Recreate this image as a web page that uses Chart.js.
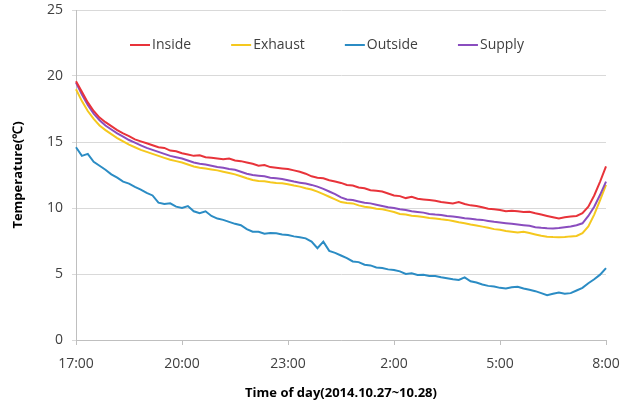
<!DOCTYPE html>
<html>
<head>
<meta charset="utf-8">
<script src="https://cdn.jsdelivr.net/npm/chart.js@4/dist/chart.umd.min.js"></script>
<style>
  html, body { margin: 0; padding: 0; background: #fff; }
  #wrap { width: 621px; height: 409px; }
</style>
</head>
<body>
<div id="wrap"><canvas id="tempChart"></canvas></div>
<script>
// readings every 10 minutes, 17:00 -> 8:00
const times = [
  '17:00','17:10','17:20','17:30','17:40','17:50',
  '18:00','18:10','18:20','18:30','18:40','18:50',
  '19:00','19:10','19:20','19:30','19:40','19:50',
  '20:00','20:10','20:20','20:30','20:40','20:50',
  '21:00','21:10','21:20','21:30','21:40','21:50',
  '22:00','22:10','22:20','22:30','22:40','22:50',
  '23:00','23:10','23:20','23:30','23:40','23:50',
  '0:00','0:10','0:20','0:30','0:40','0:50',
  '1:00','1:10','1:20','1:30','1:40','1:50',
  '2:00','2:10','2:20','2:30','2:40','2:50',
  '3:00','3:10','3:20','3:30','3:40','3:50',
  '4:00','4:10','4:20','4:30','4:40','4:50',
  '5:00','5:10','5:20','5:30','5:40','5:50',
  '6:00','6:10','6:20','6:30','6:40','6:50',
  '7:00','7:10','7:20','7:30','7:40','7:50',
  '8:00'
];
const tickTimes = ['17:00', '20:00', '23:00', '2:00', '5:00', '8:00'];

const inside = [
  19.6, 18.8, 18.0, 17.35, 16.85, 16.5,
  16.2, 15.9, 15.65, 15.45, 15.2, 15.05,
  14.9, 14.75, 14.6, 14.55, 14.35, 14.3,
  14.15, 14.05, 13.95, 14.0, 13.85, 13.8,
  13.75, 13.7, 13.75, 13.6, 13.55, 13.45,
  13.35, 13.2, 13.25, 13.1, 13.05, 13.0,
  12.95, 12.85, 12.75, 12.6, 12.4, 12.3,
  12.25, 12.1, 12.0, 11.9, 11.75, 11.7,
  11.55, 11.5, 11.35, 11.3, 11.25, 11.1,
  10.95, 10.9, 10.75, 10.85, 10.7, 10.65,
  10.6, 10.55, 10.45, 10.4, 10.35, 10.45,
  10.3, 10.2, 10.15, 10.05, 9.95, 9.9,
  9.85, 9.75, 9.8, 9.75, 9.7, 9.72,
  9.6, 9.5, 9.4, 9.3, 9.2, 9.3,
  9.35, 9.4, 9.6, 10.1, 10.95, 12.0,
  13.15
];
const exhaust = [
  19.0, 18.1, 17.35, 16.75, 16.25, 15.9,
  15.6, 15.3, 15.05, 14.8, 14.6, 14.4,
  14.25, 14.1, 13.95, 13.8, 13.65, 13.55,
  13.45, 13.3, 13.15, 13.05, 13.0, 12.92,
  12.85, 12.75, 12.65, 12.55, 12.4, 12.25,
  12.12, 12.05, 12.02, 11.95, 11.9, 11.87,
  11.8, 11.7, 11.62, 11.5, 11.4, 11.24,
  11.05, 10.85, 10.65, 10.45, 10.38, 10.35,
  10.2, 10.1, 10.04, 9.95, 9.9, 9.8,
  9.7, 9.55, 9.5, 9.42, 9.38, 9.32,
  9.25, 9.2, 9.14, 9.1, 9.02, 8.92,
  8.84, 8.75, 8.68, 8.59, 8.5, 8.4,
  8.35, 8.25, 8.2, 8.15, 8.2, 8.1,
  8.0, 7.9, 7.83, 7.8, 7.78, 7.8,
  7.85, 7.88, 8.1, 8.6, 9.5, 10.6,
  11.75
];
const outside = [
  14.6, 13.95, 14.1, 13.5, 13.2, 12.9,
  12.55, 12.3, 12.0, 11.85, 11.6, 11.4,
  11.15, 10.95, 10.4, 10.3, 10.35, 10.1,
  10.0, 10.15, 9.75, 9.6, 9.75, 9.4,
  9.2, 9.1, 8.95, 8.8, 8.7, 8.4,
  8.2, 8.2, 8.05, 8.1, 8.08, 8.0,
  7.95, 7.85, 7.78, 7.7, 7.45, 6.95,
  7.45, 6.75, 6.6, 6.4, 6.2, 5.95,
  5.9, 5.7, 5.65, 5.5, 5.45, 5.35,
  5.3, 5.2, 5.0, 5.05, 4.92, 4.95,
  4.85, 4.85, 4.75, 4.67, 4.6, 4.55,
  4.75, 4.45, 4.35, 4.2, 4.1, 4.05,
  3.95, 3.9, 4.0, 4.04, 3.9, 3.8,
  3.7, 3.55, 3.4, 3.5, 3.59, 3.5,
  3.55, 3.75, 3.95, 4.3, 4.6, 4.95,
  5.45
];
const supply = [
  19.5, 18.6, 17.8, 17.15, 16.65, 16.25,
  15.95, 15.65, 15.4, 15.15, 14.95, 14.75,
  14.55, 14.4, 14.25, 14.1, 13.95, 13.85,
  13.75, 13.6, 13.45, 13.35, 13.3, 13.2,
  13.1, 13.05, 12.95, 12.9, 12.75, 12.6,
  12.5, 12.45, 12.4, 12.3, 12.25, 12.2,
  12.1, 12.0, 11.92, 11.85, 11.75, 11.62,
  11.45, 11.25, 11.05, 10.8, 10.65, 10.6,
  10.5, 10.4, 10.35, 10.25, 10.15, 10.05,
  10.0, 9.9, 9.85, 9.75, 9.7, 9.65,
  9.55, 9.5, 9.47, 9.4, 9.35, 9.3,
  9.22, 9.18, 9.12, 9.1, 9.02, 8.95,
  8.9, 8.85, 8.8, 8.75, 8.7, 8.65,
  8.55, 8.5, 8.46, 8.45, 8.48, 8.54,
  8.6, 8.7, 8.84, 9.4, 10.1, 11.0,
  12.0
];

const seriesNames = ['Inside', 'Exhaust', 'Outside', 'Supply'];
const seriesColors = ['#e8333a', '#f5c81e', '#2b8cc4', '#8a4dbf'];
const seriesData = [inside, exhaust, outside, supply];

const textColor = '#404040';
const gridColor = '#d9d9d9';
const axisColor = '#bfbfbf';

// legend sits inside the plot area, as in the original
const innerLegend = {
  id: 'innerLegend',
  afterDatasetsDraw(chart) {
    const ctx = chart.ctx;
    const area = chart.chartArea;
    const y = area.top + 35;
    let x = area.left + 54;
    ctx.save();
    ctx.font = '14px "Open Sans"';
    ctx.textBaseline = 'middle';
    chart.data.datasets.forEach(ds => {
      ctx.strokeStyle = ds.borderColor;
      ctx.lineWidth = 2;
      ctx.beginPath();
      ctx.moveTo(x, y);
      ctx.lineTo(x + 20, y);
      ctx.stroke();
      ctx.fillStyle = textColor;
      ctx.fillText(ds.label, x + 22, y);
      x += 22 + ctx.measureText(ds.label).width + 40;
    });
    ctx.restore();
  }
};

const chart = new Chart(document.getElementById('tempChart'), {
  type: 'line',
  data: {
    labels: times,
    datasets: seriesNames.map((name, i) => ({
      label: name,
      data: seriesData[i],
      borderColor: seriesColors[i],
      backgroundColor: seriesColors[i],
      borderWidth: 2,
      pointRadius: 0,
      tension: 0,
      order: i === 0 ? 0 : 4 - i
    }))
  },
  options: {
    responsive: true,
    maintainAspectRatio: false,
    animation: false,
    layout: { padding: { top: 10, right: 15, bottom: 0, left: 0 } },
    plugins: {
      legend: { display: false },
      tooltip: { enabled: false }
    },
    scales: {
      x: {
        type: 'category',
        offset: false,
        afterFit: s => { s.height = 69; s.paddingRight = 0; s.paddingLeft = 0; },
        grid: {
          drawOnChartArea: false,
          tickLength: 5,
          color: c => tickTimes.includes(times[c.index]) ? axisColor : 'rgba(0,0,0,0)'
        },
        border: { color: axisColor },
        ticks: {
          autoSkip: false,
          maxRotation: 0,
          padding: 11,
          color: textColor,
          font: { family: 'Open Sans', size: 14 },
          callback: function (v, i) {
            const t = times[i];
            return tickTimes.includes(t) ? t : '';
          }
        },
        title: {
          display: true,
          text: 'Time of day(2014.10.27~10.28)',
          color: '#000',
          font: { family: 'Open Sans', size: 13, weight: 'bold' },
          padding: { top: 8, bottom: 8 }
        }
      },
      y: {
        min: 0,
        max: 25,
        afterFit: s => { s.width = 76; s.paddingTop = 0; s.paddingBottom = 0; },
        ticks: {
          stepSize: 5,
          padding: 9,
          color: textColor,
          font: { family: 'Open Sans', size: 14 }
        },
        grid: { color: gridColor, tickLength: 4 },
        border: { color: axisColor },
        title: {
          display: true,
          text: 'Temperature(℃)',
          color: '#000',
          font: { family: 'Open Sans', size: 13, weight: 'bold' },
          padding: { top: 10, bottom: 0 }
        }
      }
    }
  },
  plugins: [innerLegend]
});
</script>
</body>
</html>
